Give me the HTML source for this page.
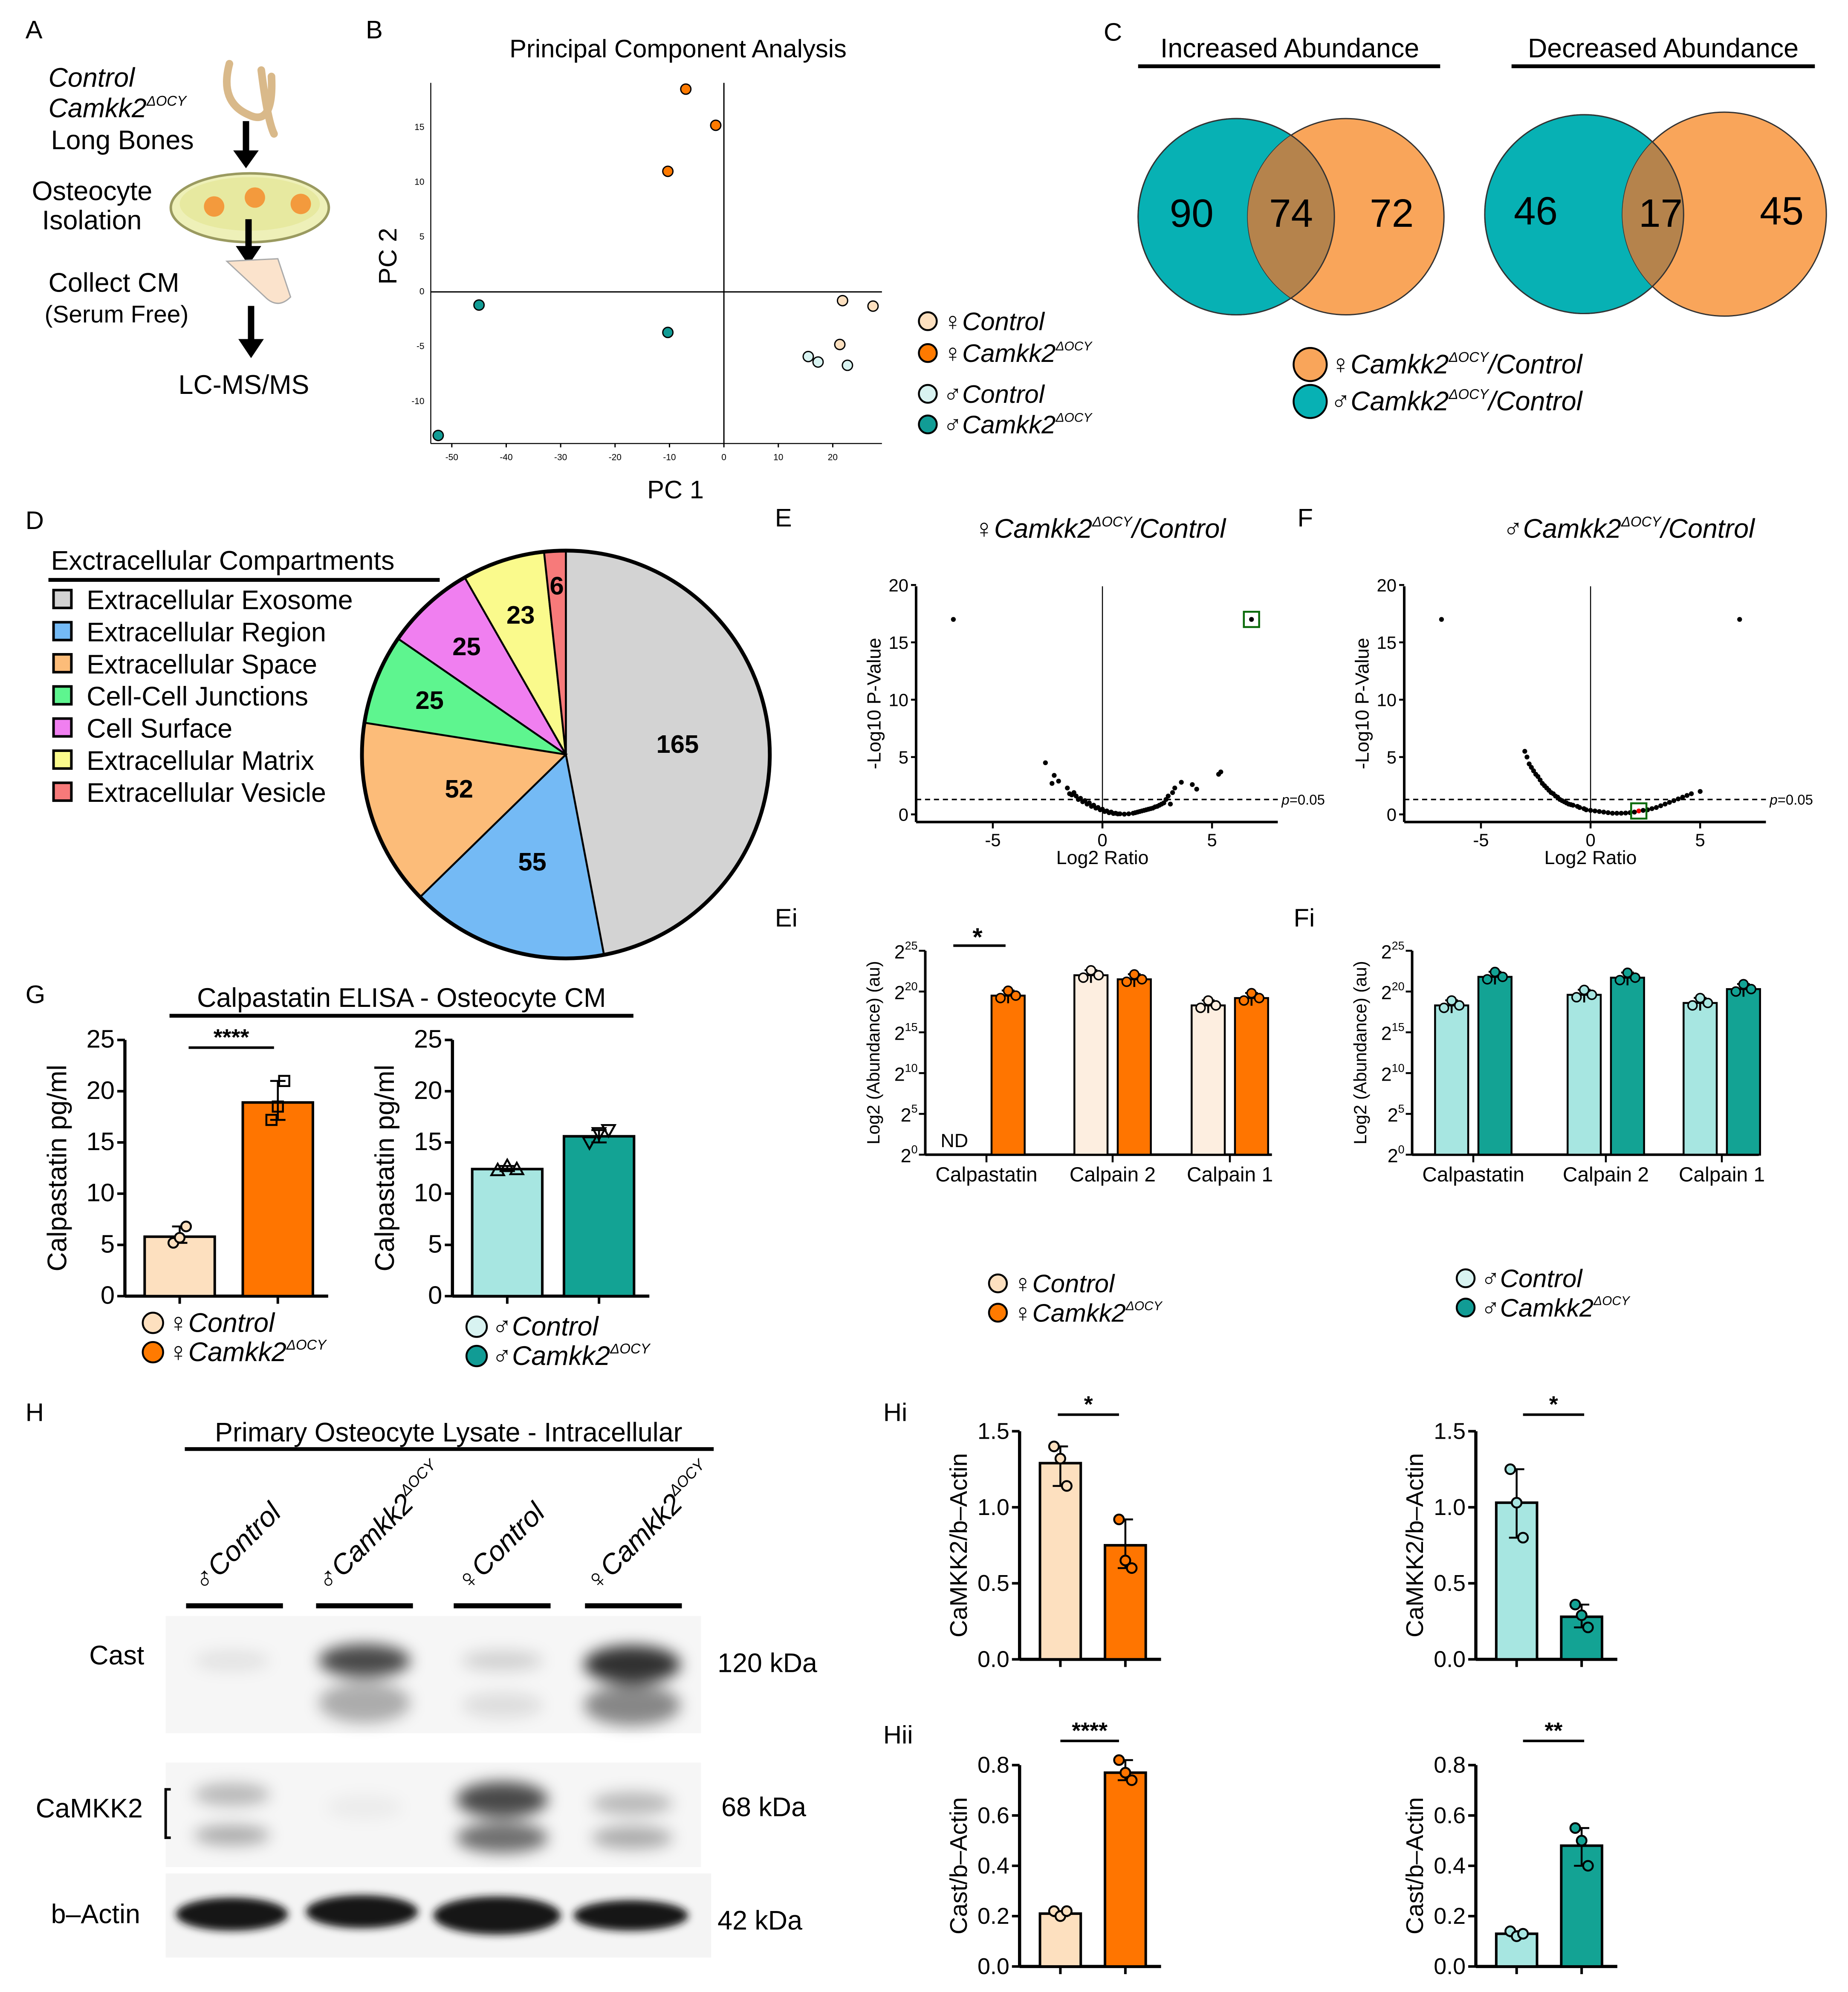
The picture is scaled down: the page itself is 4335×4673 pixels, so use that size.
<!DOCTYPE html>
<html><head><meta charset="utf-8">
<style>
html,body{margin:0;padding:0;background:#fff;}
svg{display:block;font-family:"Liberation Sans",Arial,sans-serif;}
text{font-family:"Liberation Sans",Arial,sans-serif;}
</style></head>
<body>
<svg id="fig" xmlns="http://www.w3.org/2000/svg" width="4335" height="4673" viewBox="0 0 1450 1563">
<defs>
<filter id="blur4" x="-50%" y="-50%" width="200%" height="200%"><feGaussianBlur stdDeviation="6"/></filter>
<filter id="blur2" x="-50%" y="-50%" width="200%" height="200%"><feGaussianBlur stdDeviation="3"/></filter>
<clipPath id="clipT1"><circle cx="970" cy="170" r="77"/></clipPath>
<clipPath id="clipT2"><circle cx="1243" cy="168" r="78"/></clipPath>
</defs>
<rect width="1450" height="1563" fill="#fff"/>

<!-- Panel A -->
<g font-size="21">
<text x="20" y="30" font-size="20">A</text>
<text x="38" y="68" font-style="italic">Control</text>
<text x="38" y="92" font-style="italic">Camkk2<tspan font-size="11" dy="-9">ΔOCY</tspan></text>
<text x="40" y="117">Long Bones</text>
<path d="M180 50 q-8 30 15 40 q20 10 18 -30 M205 55 q5 40 10 50" stroke="#d9b98a" stroke-width="6" fill="none" stroke-linecap="round"/>
<line x1="193" y1="95" x2="193" y2="120" stroke="#000" stroke-width="5"/><polygon points="183,118 203,118 193,132" fill="#000"/>
<ellipse cx="196" cy="163" rx="62" ry="27" fill="#eef0b8" stroke="#9a9a60" stroke-width="2"/>
<ellipse cx="196" cy="160" rx="55" ry="21" fill="#e7e9a0"/>
<circle cx="168" cy="162" r="8" fill="#f39a3d"/><circle cx="200" cy="155" r="8" fill="#f39a3d"/><circle cx="236" cy="160" r="8" fill="#f39a3d"/>
<text x="25" y="157">Osteocyte</text>
<text x="33" y="180">Isolation</text>
<line x1="195" y1="172" x2="195" y2="195" stroke="#000" stroke-width="5"/><polygon points="185,193 205,193 195,208" fill="#000"/>
<path d="M178 205 l30 28 q10 10 20 0 l-10 -30 z" fill="#fbe3cc" stroke="#aaa"/>
<text x="38" y="229">Collect CM</text>
<text x="35" y="253" font-size="19">(Serum Free)</text>
<line x1="197" y1="240" x2="197" y2="268" stroke="#000" stroke-width="5"/><polygon points="187,266 207,266 197,281" fill="#000"/>
<text x="140" y="309">LC-MS/MS</text>
</g>

<!-- Panel B -->
<g id="pca">
<text x="287" y="30" font-size="20">B</text>
<text x="532" y="45" font-size="20" text-anchor="middle">Principal Component Analysis</text>
<text x="530" y="391" font-size="20" text-anchor="middle">PC 1</text>
<text transform="translate(311,201) rotate(-90)" font-size="20" text-anchor="middle">PC 2</text>
</g>
<g font-size="20" font-style="italic">
<circle cx="728" cy="252" r="7" fill="#fde0bf" stroke="#000" stroke-width="1.5"/><text x="740" y="259">♀Control</text>
<circle cx="728" cy="277" r="7" fill="#ff7a00" stroke="#000" stroke-width="1.5"/><text x="740" y="284">♀Camkk2<tspan font-size="10" dy="-9">ΔOCY</tspan></text>
<circle cx="728" cy="309" r="7" fill="#d8f3f1" stroke="#000" stroke-width="1.5"/><text x="740" y="316">♂Control</text>
<circle cx="728" cy="333" r="7" fill="#119c95" stroke="#000" stroke-width="1.5"/><text x="740" y="340">♂Camkk2<tspan font-size="10" dy="-9">ΔOCY</tspan></text>
</g>

<!-- Panel C -->
<g>
<text x="866" y="32" font-size="20">C</text>
<text x="1012" y="45" font-size="21" text-anchor="middle">Increased Abundance</text>
<line x1="893" y1="52" x2="1130" y2="52" stroke="#000" stroke-width="3"/>
<circle cx="970" cy="170" r="77" fill="#07b1b4" stroke="#333" stroke-width="1"/>
<circle cx="1056" cy="170" r="77" fill="#f9a55a" stroke="#333" stroke-width="1"/>
<circle cx="1056" cy="170" r="77" fill="#b5834c" clip-path="url(#clipT1)"/>
<circle cx="970" cy="170" r="77" fill="none" stroke="#333" stroke-width="1"/>
<g font-size="31" text-anchor="middle">
<text x="935" y="178">90</text>
<text x="1013" y="178">74</text>
<text x="1092" y="178">72</text>
</g>
<text x="1305" y="45" font-size="21" text-anchor="middle">Decreased Abundance</text>
<line x1="1186" y1="52" x2="1424" y2="52" stroke="#000" stroke-width="3"/>
<circle cx="1243" cy="168" r="78" fill="#07b1b4" stroke="#333" stroke-width="1"/>
<circle cx="1353" cy="168" r="80" fill="#f9a55a" stroke="#333" stroke-width="1"/>
<circle cx="1353" cy="168" r="80" fill="#b5834c" clip-path="url(#clipT2)"/>
<circle cx="1243" cy="168" r="78" fill="none" stroke="#333" stroke-width="1"/>
<g font-size="31" text-anchor="middle">
<text x="1205" y="176">46</text>
<text x="1303" y="178">17</text>
<text x="1398" y="176">45</text>
</g>
<g font-size="21" font-style="italic">
<circle cx="1028" cy="286" r="13" fill="#f9a55a" stroke="#000" stroke-width="1.5"/><text x="1044" y="293">♀Camkk2<tspan font-size="11" dy="-9">ΔOCY</tspan><tspan dy="9">/Control</tspan></text>
<circle cx="1028" cy="315" r="13" fill="#07b1b4" stroke="#000" stroke-width="1.5"/><text x="1044" y="322">♂Camkk2<tspan font-size="11" dy="-9">ΔOCY</tspan><tspan dy="9">/Control</tspan></text>
</g>
</g>

<!-- Panel D -->
<g id="pie">
<text x="20" y="415" font-size="20">D</text>
<text x="40" y="447" font-size="21">Exctracellular Compartments</text>
<line x1="38" y1="455" x2="345" y2="455" stroke="#000" stroke-width="3"/>
</g>

<!-- Panels E/F volcano -->
<g id="volc">
<text x="608" y="413" font-size="20">E</text>
<text x="1018" y="413" font-size="20">F</text>
<text x="863" y="422" font-size="21" font-style="italic" text-anchor="middle">♀Camkk2<tspan font-size="11" dy="-9">ΔOCY</tspan><tspan dy="9">/Control</tspan></text>
<text x="1278" y="422" font-size="21" font-style="italic" text-anchor="middle">♂Camkk2<tspan font-size="11" dy="-9">ΔOCY</tspan><tspan dy="9">/Control</tspan></text>
</g>

<!-- Panels Ei / Fi -->
<g id="abund">
<text x="608" y="727" font-size="20">Ei</text>
<text x="1015" y="727" font-size="20">Fi</text>
</g>
<g font-size="20" font-style="italic">
<circle cx="783" cy="1007" r="7" fill="#fde0bf" stroke="#000" stroke-width="1.5"/><text x="795" y="1014">♀Control</text>
<circle cx="783" cy="1030" r="7" fill="#ff7a00" stroke="#000" stroke-width="1.5"/><text x="795" y="1037">♀Camkk2<tspan font-size="10" dy="-9">ΔOCY</tspan></text>
<circle cx="1150" cy="1003" r="7" fill="#d8f3f1" stroke="#000" stroke-width="1.5"/><text x="1162" y="1010">♂Control</text>
<circle cx="1150" cy="1026" r="7" fill="#119c95" stroke="#000" stroke-width="1.5"/><text x="1162" y="1033">♂Camkk2<tspan font-size="10" dy="-9">ΔOCY</tspan></text>
</g>

<!-- Panel G -->
<g id="elisa">
<text x="20" y="787" font-size="20">G</text>
<text x="315" y="790" font-size="21" text-anchor="middle">Calpastatin ELISA - Osteocyte CM</text>
<line x1="133" y1="797" x2="497" y2="797" stroke="#000" stroke-width="3"/>
</g>
<g font-size="21" font-style="italic">
<circle cx="120" cy="1038" r="8" fill="#fde0bf" stroke="#000" stroke-width="1.5"/><text x="132" y="1045">♀Control</text>
<circle cx="120" cy="1061" r="8" fill="#ff7a00" stroke="#000" stroke-width="1.5"/><text x="132" y="1068">♀Camkk2<tspan font-size="11" dy="-9">ΔOCY</tspan></text>
<circle cx="374" cy="1041" r="8" fill="#d8f3f1" stroke="#000" stroke-width="1.5"/><text x="386" y="1048">♂Control</text>
<circle cx="374" cy="1064" r="8" fill="#119c95" stroke="#000" stroke-width="1.5"/><text x="386" y="1071">♂Camkk2<tspan font-size="11" dy="-9">ΔOCY</tspan></text>
</g>

<!-- Panel H western blot -->
<g id="blot">
<text x="20" y="1115" font-size="20">H</text>
<text x="352" y="1131" font-size="21" text-anchor="middle">Primary Osteocyte Lysate - Intracellular</text>
<line x1="145" y1="1137" x2="560" y2="1137" stroke="#000" stroke-width="3"/>
<g font-size="22" font-style="italic">
<text transform="translate(160,1250) rotate(-45)">♂Control</text>
<text transform="translate(257,1250) rotate(-45)">♂Camkk2<tspan font-size="12" dy="-10">ΔOCY</tspan></text>
<text transform="translate(367,1250) rotate(-45)">♀Control</text>
<text transform="translate(468,1250) rotate(-45)">♀Camkk2<tspan font-size="12" dy="-10">ΔOCY</tspan></text>
</g>
<g stroke="#000" stroke-width="4">
<line x1="146" y1="1260" x2="222" y2="1260"/><line x1="248" y1="1260" x2="324" y2="1260"/>
<line x1="356" y1="1260" x2="432" y2="1260"/><line x1="459" y1="1260" x2="535" y2="1260"/>
</g>
<rect x="130" y="1268" width="420" height="92" fill="#f6f6f6"/>
<rect x="130" y="1383" width="420" height="82" fill="#f6f6f6"/>
<rect x="130" y="1470" width="428" height="66" fill="#f4f4f4"/>
<g filter="url(#blur4)">
<ellipse cx="182" cy="1303" rx="30" ry="8" fill="#000" opacity="0.08"/>
<ellipse cx="286" cy="1303" rx="36" ry="13" fill="#000" opacity="0.7"/>
<ellipse cx="286" cy="1336" rx="36" ry="16" fill="#000" opacity="0.3"/>
<ellipse cx="394" cy="1303" rx="32" ry="8" fill="#000" opacity="0.15"/>
<ellipse cx="394" cy="1338" rx="32" ry="10" fill="#000" opacity="0.1"/>
<ellipse cx="496" cy="1306" rx="38" ry="15" fill="#000" opacity="0.8"/>
<ellipse cx="496" cy="1338" rx="38" ry="16" fill="#000" opacity="0.45"/>
<ellipse cx="182" cy="1408" rx="30" ry="9" fill="#000" opacity="0.25"/>
<ellipse cx="182" cy="1440" rx="30" ry="8" fill="#000" opacity="0.3"/>
<ellipse cx="286" cy="1418" rx="30" ry="10" fill="#000" opacity="0.04"/>
<ellipse cx="394" cy="1412" rx="36" ry="14" fill="#000" opacity="0.7"/>
<ellipse cx="394" cy="1442" rx="36" ry="12" fill="#000" opacity="0.55"/>
<ellipse cx="496" cy="1415" rx="32" ry="9" fill="#000" opacity="0.25"/>
<ellipse cx="496" cy="1442" rx="32" ry="9" fill="#000" opacity="0.3"/>
</g>
<g filter="url(#blur2)" fill="#151515">
<ellipse cx="182" cy="1502" rx="44" ry="13"/>
<ellipse cx="284" cy="1500" rx="44" ry="13"/>
<ellipse cx="390" cy="1503" rx="50" ry="15"/>
<ellipse cx="495" cy="1503" rx="45" ry="12"/>
</g>
<g font-size="21">
<text x="70" y="1306">Cast</text>
<text x="28" y="1426">CaMKK2</text>
<path d="M134 1404 h-4 v38 h4" stroke="#000" stroke-width="2" fill="none"/>
<text x="40" y="1509">b–Actin</text>
<text x="563" y="1312">120 kDa</text>
<text x="566" y="1425">68 kDa</text>
<text x="563" y="1514">42 kDa</text>
</g>
</g>

<g id="hq">
<text x="693" y="1115" font-size="20">Hi</text>
<text x="693" y="1368" font-size="20">Hii</text>
</g>

<script>
// ---------- DATA ----------
const pcaX = [-7, -1.5, -10.3, -45, -10.3, -52.5, 21.8, 27.4, 21.3, 15.5, 17.3, 22.7];
const pcaY = [18.5, 15.2, 11, -1.2, -3.7, -13.1, -0.8, -1.3, -4.8, -5.9, -6.4, -6.7];
const pcaGroup = ['fm','fm','fm','mm','mm','mm','fc','fc','fc','mc','mc','mc'];
const pcaXTicks = [-50,-40,-30,-20,-10,0,10,20];
const pcaYTicks = [-10,-5,0,5,10,15];

const pieLabels = ['Extracellular Exosome','Extracellular Region','Extracellular Space','Cell-Cell Junctions','Cell Surface','Extracellular Matrix','Extracellular Vesicle'];
const pieValues = [165,55,52,25,25,23,6];

const volcEX = [-6.8,6.8,5.4,5.3,-2.6,-2.2,-2.3,-2.0,-1.6,-1.5,-1.3,-1.2,-1.0,-0.8,-0.6,-0.4,-0.2,0,0.2,0.4,0.6,0.8,1.0,1.2,1.4,1.6,1.8,2.0,2.2,2.4,2.6,2.8,3.0,3.2,3.3,3.6,4.1,4.3,2.9,3.1,-1.4,-1.1,-0.9,-0.7,-0.5,-0.3,-0.1,0.1,0.3,0.5,0.7,1.5,1.7,1.9,2.1,2.3,2.5,2.7];
const volcEY = [17,17,3.7,3.5,4.5,3.4,2.7,2.9,2.3,1.8,1.9,1.6,1.4,1.2,1.0,0.8,0.6,0.45,0.3,0.2,0.1,0.05,0.02,0.05,0.1,0.2,0.3,0.4,0.5,0.65,0.8,1.0,1.6,1.9,2.3,2.8,2.6,2.2,1.3,0.9,1.7,1.3,1.1,0.9,0.7,0.55,0.4,0.25,0.15,0.08,0.04,0.15,0.25,0.35,0.45,0.55,0.7,0.9];
const volcFX = [-6.8,6.8,-3.0,-2.9,-2.8,-2.6,-2.4,-2.2,-2.0,-1.8,-1.6,-1.4,-1.2,-1.0,-0.8,-0.5,-0.2,0.2,0.6,1.0,1.4,1.8,2.2,2.6,3.0,3.4,3.8,4.2,4.6,5.0,-2.7,-2.5,-2.3,-2.1,-1.9,-1.7,-1.5,-1.3,-1.1,-0.9,-0.6,-0.3,0,0.4,0.8,1.2,1.6,2.0,2.4,2.8,3.2,3.6,4.0,4.4];
const volcFY = [17,17,5.5,5.0,4.4,3.8,3.3,2.7,2.3,1.9,1.6,1.3,1.1,0.9,0.8,0.6,0.4,0.3,0.2,0.1,0.1,0.15,0.3,0.4,0.6,0.9,1.2,1.5,1.8,2.0,4.1,3.5,3.0,2.5,2.1,1.8,1.5,1.2,1.0,0.85,0.7,0.5,0.35,0.25,0.15,0.1,0.12,0.2,0.35,0.5,0.75,1.05,1.35,1.65];
const volcXTicks = [-5,0,5];
const volcYTicks = [0,5,10,15,20];

const abundCats = ['Calpastatin','Calpain 2','Calpain 1'];
const eiCtrl = [null, 22.0, 18.3];
const eiMut = [19.5, 21.5, 19.2];
const fiCtrl = [18.3, 19.6, 18.6];
const fiMut = [21.8, 21.7, 20.3];
const abundTicks = [0,5,10,15,20,25];

const elisaFemale = [5.8, 18.9];
const elisaMale = [12.4, 15.6];
const elisaFemaleDots = [[5.2,5.7,6.8],[17.2,18.5,21]];
const elisaMaleDots = [[12.3,12.7,12.4],[15.0,15.9,16.2]];
const elisaTicks = [0,5,10,15,20,25];

const hiFemale = [1.29, 0.75];
const hiMale = [1.03, 0.28];
const hiiFemale = [0.21, 0.77];
const hiiMale = [0.13, 0.48];
const hiFemaleDots = [[1.4,1.32,1.14],[0.92,0.65,0.6]];
const hiMaleDots = [[1.25,1.03,0.8],[0.36,0.29,0.21]];
const hiiFemaleDots = [[0.22,0.2,0.22],[0.82,0.77,0.74]];
const hiiMaleDots = [[0.14,0.12,0.13],[0.55,0.5,0.4]];
const hiTicks = [0,0.5,1.0,1.5];
const hiiTicks = [0,0.2,0.4,0.6,0.8];

// ---------- HELPERS ----------
const NS = 'http://www.w3.org/2000/svg';
function mk(tag, attrs, parent) {
  const el = document.createElementNS(NS, tag);
  for (const k in attrs) el.setAttribute(k, attrs[k]);
  parent.appendChild(el);
  return el;
}
function txt(str, attrs, parent) { const t = mk('text', attrs, parent); t.textContent = str; return t; }
function span(str, attrs, parent) { const t = mk('tspan', attrs, parent); t.textContent = str; return t; }
const COL = {fc:'#fde0bf', fm:'#ff7a00', mc:'#d8f3f1', mm:'#119c95'};

// ---------- PCA ----------
(function(){
  const g = document.getElementById('pca');
  const x0 = 568, y0 = 229, sx = 4.27, sy = 8.6;
  const X = v => x0 + v*sx, Y = v => y0 - v*sy;
  mk('line',{x1:338,y1:y0,x2:692,y2:y0,stroke:'#000','stroke-width':1},g);
  mk('line',{x1:x0,y1:65,x2:x0,y2:348,stroke:'#000','stroke-width':1},g);
  mk('line',{x1:338,y1:65,x2:338,y2:348,stroke:'#000','stroke-width':0.8},g);
  mk('line',{x1:338,y1:348,x2:692,y2:348,stroke:'#000','stroke-width':0.8},g);
  pcaXTicks.forEach(t=>{
    mk('line',{x1:X(t),y1:348,x2:X(t),y2:351,stroke:'#000'},g);
    const l = txt(String(t),{x:X(t),y:361,'font-size':7,'text-anchor':'middle'},g);
    
    
  });
  pcaYTicks.forEach(t=>{
    const l = txt(String(t),{x:333,y:Y(t)+2,'font-size':7,'text-anchor':'end'},g);
    
    
  });
  pcaX.forEach((v,i)=>{
    const c = mk('circle',{cx:X(v),cy:Y(pcaY[i]),r:4,fill:COL[pcaGroup[i]],stroke:'#000','stroke-width':1},g);
    
    
  });
})();

// ---------- PIE ----------
(function(){
  const g = document.getElementById('pie');
  const cols = ['#d3d3d3','#74baf5','#fcbc79','#5ef58f','#f07ff0','#fafa8c','#f77a7a'];
  const cx = 444, cy = 592, r = 160;
  const total = pieValues.reduce((a,b)=>a+b,0);
  let a = 0;
  pieValues.forEach((v,i)=>{
    const a1 = a, a2 = a + v/total*2*Math.PI; a = a2;
    const p = (ang,rr)=>[cx+rr*Math.sin(ang), cy-rr*Math.cos(ang)];
    const [x1,y1] = p(a1,r), [x2,y2] = p(a2,r);
    const large = (a2-a1)>Math.PI?1:0;
    const s = mk('path',{d:`M${cx},${cy} L${x1},${y1} A${r},${r} 0 ${large} 1 ${x2},${y2} Z`,fill:cols[i],stroke:'#000','stroke-width':1.5},g);
    
    
    const am = (a1+a2)/2, rr = i===6? r*0.83 : (i>=3? r*0.72 : r*0.55);
    const [lx,ly] = p(am, rr);
    const l = txt(String(v),{x:lx,y:ly+7,'font-size':20,'font-weight':'bold','text-anchor':'middle'},g);
    
    
    const ly2 = 463 + i*25.2;
    const sw = mk('rect',{x:42,y:ly2,width:14,height:14,fill:cols[i],stroke:'#000','stroke-width':2},g);
    
    
    const lt = txt(pieLabels[i],{x:68,y:ly2+15,'font-size':21},g);
    
    
  });
  mk('circle',{cx:cx,cy:cy,r:r,fill:'none',stroke:'#000','stroke-width':3},g);
})();

// ---------- VOLCANO ----------
function volcano(xs, ys, ox, boxIdx, boxRed){
  const g = document.getElementById('volc');
  const x0 = ox, yb = 639, sx = 17.2, sy = 9;
  const X = v => x0 + v*sx, Y = v => yb - v*sy;
  const left = X(-8.5), right = X(8);
  mk('line',{x1:left,y1:460,x2:left,y2:645,stroke:'#000','stroke-width':2},g);
  mk('line',{x1:left,y1:645,x2:right,y2:645,stroke:'#000','stroke-width':2},g);
  mk('line',{x1:x0,y1:460,x2:x0,y2:645,stroke:'#000','stroke-width':0.8},g);
  mk('line',{x1:left,y1:Y(1.3),x2:right,y2:Y(1.3),stroke:'#000','stroke-width':1.2,'stroke-dasharray':'4,3'},g);
  const pl = txt('',{x:right+3,y:Y(1.3)+4,'font-size':11},g);
  span('p',{'font-style':'italic'},pl);
  span('=0.05',{},pl);
  
  
  volcXTicks.forEach(t=>{
    mk('line',{x1:X(t),y1:645,x2:X(t),y2:650,stroke:'#000','stroke-width':1.5},g);
    const l = txt(String(t),{x:X(t),y:664,'font-size':14,'text-anchor':'middle'},g);
    
    
  });
  volcYTicks.forEach(t=>{
    mk('line',{x1:left-4,y1:Y(t),x2:left,y2:Y(t),stroke:'#000','stroke-width':1.5},g);
    const l = txt(String(t),{x:left-6,y:Y(t)+5,'font-size':14,'text-anchor':'end'},g);
    
    
  });
  const xl = txt('Log2 Ratio',{x:x0,y:678,'font-size':15,'text-anchor':'middle'},g);
  
  
  const yl = txt('-Log10 P-Value',{transform:`translate(${left-28},552) rotate(-90)`,'font-size':15,'text-anchor':'middle'},g);
  
  
  xs.forEach((v,i)=>{
    const c = mk('circle',{cx:X(v),cy:Y(ys[i]),r:1.9,fill:(i===boxIdx&&boxRed)?'#e00':'#000'},g);
    
    
  });
  const b = mk('rect',{x:X(xs[boxIdx])-6,y:Y(ys[boxIdx])-6,width:12,height:12,fill:'none',stroke:'#0a6a0a','stroke-width':1.5},g);
  
  
}
volcano(volcEX, volcEY, 865, 1, false);
volcano(volcFX, volcFY, 1248, 22, true);

// ---------- ABUNDANCE BARS ----------
function abund(ctrl, mut, axisX, centers, cc, mc){
  const g = document.getElementById('abund');
  const yb = 906, s = 6.4, right = axisX + 272;
  const Y = v => yb - v*s;
  mk('line',{x1:axisX,y1:Y(25),x2:axisX,y2:yb,stroke:'#000','stroke-width':2},g);
  mk('line',{x1:axisX,y1:yb,x2:right,y2:yb,stroke:'#000','stroke-width':2},g);
  abundTicks.forEach(t=>{
    mk('line',{x1:axisX-5,y1:Y(t),x2:axisX,y2:Y(t),stroke:'#000','stroke-width':1.5},g);
    const l = txt('',{x:axisX-6,y:Y(t)+6,'font-size':15,'text-anchor':'end'},g);
    span('2',{},l);
    span(String(t),{'font-size':9,dy:-7},l);
    
    
  });
  const yl = txt('Log2 (Abundance) (au)',{transform:`translate(${axisX-36},826) rotate(-90)`,'font-size':14,'text-anchor':'middle'},g);
  
  
  abundCats.forEach((c,i)=>{
    const cx = centers[i];
    mk('line',{x1:cx,y1:yb,x2:cx,y2:yb+6,stroke:'#000','stroke-width':1.5},g);
    const l = txt(c,{x:cx,y:927,'font-size':16,'text-anchor':'middle'},g);
    
    
    [[ctrl[i],-17,cc],[mut[i],17,mc]].forEach(([v,off,col])=>{
      if (v===null) return;
      const bx = cx+off-13;
      const r = mk('rect',{x:bx,y:Y(v),width:26,height:yb-Y(v),fill:col,stroke:'#000','stroke-width':1.5},g);
      
      
      mk('line',{x1:cx+off,y1:Y(v)-4,x2:cx+off,y2:Y(v)+6,stroke:'#000','stroke-width':1.5},g);
      mk('line',{x1:cx+off-5,y1:Y(v)-4,x2:cx+off+5,y2:Y(v)-4,stroke:'#000','stroke-width':1.5},g);
      [[-6,-0.3],[0,0.6],[6,0]].forEach(([dx,dv])=>{
        const d = mk('circle',{cx:cx+off+dx,cy:Y(v+dv),r:3.5,fill:col,stroke:'#000','stroke-width':1.2},g);
        
        
      });
    });
  });
}
abund(eiCtrl, eiMut, 726, [774,873,965], '#fdeee0', '#ff7500');
abund(fiCtrl, fiMut, 1108, [1156,1260,1351], '#a7e6e1', '#13a394');
(function(){
  const g = document.getElementById('abund');
  const nd = txt('ND',{x:738,y:900,'font-size':15},g);
  
  
  mk('line',{x1:748,y1:742,x2:789,y2:742,stroke:'#000','stroke-width':2},g);
  const st = txt('*',{x:767,y:742,'font-size':20,'font-weight':'bold','text-anchor':'middle'},g);
  
  
})();

// ---------- GENERIC 2-BAR CHART ----------
function twoBar(gid, vals, dots, ticks, axisX, yTop, yBot, maxV, centers, bw, cols, ylabel, sig, sigLine, fmt, fs, dotShape){
  const g = document.getElementById(gid);
  const Y = v => yBot - v/maxV*(yBot-yTop);
  mk('line',{x1:axisX,y1:yTop,x2:axisX,y2:yBot,stroke:'#000','stroke-width':2.5},g);
  mk('line',{x1:axisX,y1:yBot,x2:centers[1]+bw/2+12,y2:yBot,stroke:'#000','stroke-width':2.5},g);
  ticks.forEach(t=>{
    mk('line',{x1:axisX-6,y1:Y(t),x2:axisX,y2:Y(t),stroke:'#000','stroke-width':2},g);
    const l = txt(fmt(t),{x:axisX-8,y:Y(t)+6,'font-size':fs,'text-anchor':'end'},g);
    
    
  });
  const mid = (yTop+yBot)/2;
  const yl = txt(ylabel,{transform:`translate(${axisX-(fs*2.3)},${mid}) rotate(-90)`,'font-size':fs+1,'text-anchor':'middle'},g);
  
  
  vals.forEach((v,i)=>{
    const cx = centers[i];
    mk('line',{x1:cx,y1:yBot,x2:cx,y2:yBot+6,stroke:'#000','stroke-width':2},g);
    const r = mk('rect',{x:cx-bw/2,y:Y(v),width:bw,height:yBot-Y(v),fill:cols[i],stroke:'#000','stroke-width':2},g);
    
    
    const ds = dots[i];
    const hi = Math.max(...ds), lo = Math.min(...ds);
    mk('line',{x1:cx,y1:Y(hi),x2:cx,y2:Y(lo),stroke:'#000','stroke-width':1.5},g);
    mk('line',{x1:cx-6,y1:Y(hi),x2:cx+6,y2:Y(hi),stroke:'#000','stroke-width':1.5},g);
    mk('line',{x1:cx-6,y1:Y(lo),x2:cx+6,y2:Y(lo),stroke:'#000','stroke-width':1.5},g);
    ds.forEach((d,j)=>{
      const dx = [-5,0,5][j];
      let m;
      if (dotShape && dotShape[i]==='sq') m = mk('rect',{x:cx+dx-4,y:Y(d)-4,width:8,height:8,fill:'none',stroke:'#000','stroke-width':1.5},g);
      else if (dotShape && dotShape[i]==='tri') m = mk('path',{d:`M${cx+dx*1.5-5},${Y(d)+4} L${cx+dx*1.5+5},${Y(d)+4} L${cx+dx*1.5},${Y(d)-5} Z`,fill:'none',stroke:'#000','stroke-width':1.5},g);
      else if (dotShape && dotShape[i]==='itri') m = mk('path',{d:`M${cx+dx*1.5-5},${Y(d)-4} L${cx+dx*1.5+5},${Y(d)-4} L${cx+dx*1.5},${Y(d)+5} Z`,fill:'none',stroke:'#000','stroke-width':1.5},g);
      else m = mk('circle',{cx:cx+dx,cy:Y(d),r:3.8,fill:cols[i],stroke:'#000','stroke-width':1.5},g);
      
      
    });
  });
  if (sig) {
    mk('line',{x1:sigLine[0],y1:sigLine[2],x2:sigLine[1],y2:sigLine[2],stroke:'#000','stroke-width':2},g);
    const s = txt(sig,{x:(sigLine[0]+sigLine[1])/2,y:sigLine[2]-2,'font-size':18,'font-weight':'bold','text-anchor':'middle'},g);
    
    
  }
}
const intF = t=>String(t);
const oneF = t=>t.toFixed(1);
twoBar('elisa', elisaFemale, elisaFemaleDots, elisaTicks, 98, 816, 1017, 25, [141,218], 55, ['#fde0bf','#ff7500'], 'Calpastatin pg/ml', '****', [148,215,822], intF, 20, ['circ','sq']);
twoBar('elisa', elisaMale, elisaMaleDots, elisaTicks, 355, 816, 1017, 25, [398,470], 55, ['#a7e6e1','#13a394'], 'Calpastatin pg/ml', null, null, intF, 20, ['tri','itri']);
twoBar('hq', hiFemale, hiFemaleDots, hiTicks, 800, 1123, 1302, 1.5, [832,883], 32, ['#fde0bf','#ff7500'], 'CaMKK2/b–Actin', '*', [830,878,1110], oneF, 18);
twoBar('hq', hiMale, hiMaleDots, hiTicks, 1158, 1123, 1302, 1.5, [1190,1241], 32, ['#a7e6e1','#13a394'], 'CaMKK2/b–Actin', '*', [1195,1243,1110], oneF, 18);
twoBar('hq', hiiFemale, hiiFemaleDots, hiiTicks, 800, 1385, 1543, 0.8, [832,883], 32, ['#fde0bf','#ff7500'], 'Cast/b–Actin', '****', [832,878,1366], oneF, 18);
twoBar('hq', hiiMale, hiiMaleDots, hiiTicks, 1158, 1385, 1543, 0.8, [1190,1241], 32, ['#a7e6e1','#13a394'], 'Cast/b–Actin', '**', [1195,1243,1366], oneF, 18);
</script>
</svg>
</body></html>
